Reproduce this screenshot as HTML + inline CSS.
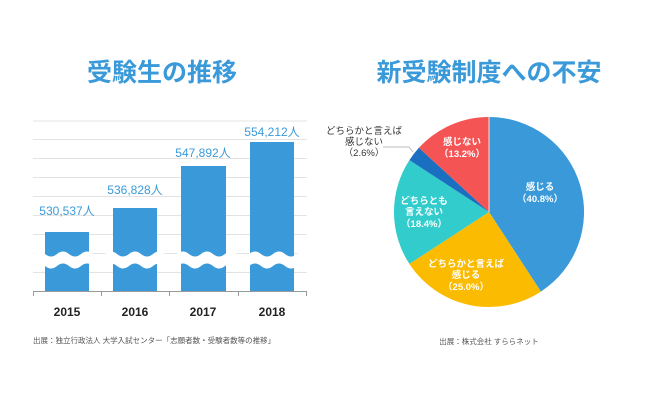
<!DOCTYPE html><html><head><meta charset="utf-8"><style>body{margin:0;background:#fff}svg{display:block}text{font-family:"Liberation Sans","Noto Sans CJK JP",sans-serif}</style></head><body>
<svg width="650" height="406" viewBox="0 0 650 406">
<text x="162" y="81" font-size="25" font-weight="bold" fill="#3a9ad9" text-anchor="middle">受験生の推移</text>
<text x="489" y="81" font-size="25" font-weight="bold" fill="#3a9ad9" text-anchor="middle">新受験制度への不安</text>
<g stroke="#e3e3e3" stroke-width="1">
<line x1="33" x2="307" y1="121" y2="121"/><line x1="33" x2="307" y1="139.5" y2="139.5"/><line x1="33" x2="307" y1="158.5" y2="158.5"/><line x1="33" x2="307" y1="177.5" y2="177.5"/><line x1="33" x2="307" y1="196.5" y2="196.5"/><line x1="33" x2="307" y1="215.5" y2="215.5"/><line x1="33" x2="307" y1="234.5" y2="234.5"/><line x1="33" x2="307" y1="253.5" y2="253.5"/><line x1="33" x2="307" y1="272.5" y2="272.5"/></g>
<g fill="#3a9ad9"><rect x="45" y="232" width="44" height="59"/><rect x="113" y="208" width="44" height="83"/><rect x="181" y="166" width="45" height="125"/><rect x="250" y="142" width="44" height="149"/></g>
<path d="M33 254 q6 -5 12 0 t12 0 t12 0 t12 0 t12 0 t12 0 t12 0 t12 0 t12 0 t12 0 t12 0 t12 0 t12 0 t12 0 t12 0 t12 0 t12 0 t12 0 t12 0 t12 0 t12 0 t12 0 t12 0 L309 266 q-6 -5 -12 0 t-12 0 t-12 0 t-12 0 t-12 0 t-12 0 t-12 0 t-12 0 t-12 0 t-12 0 t-12 0 t-12 0 t-12 0 t-12 0 t-12 0 t-12 0 t-12 0 t-12 0 t-12 0 t-12 0 t-12 0 t-12 0 t-12 0 Z" fill="#fff"/>
<line x1="33" x2="307" y1="291.5" y2="291.5" stroke="#999"/>
<g stroke="#999"><line x1="33.5" x2="33.5" y1="291" y2="296"/><line x1="101.5" x2="101.5" y1="291" y2="296"/><line x1="169.5" x2="169.5" y1="291" y2="296"/><line x1="238.5" x2="238.5" y1="291" y2="296"/><line x1="306.5" x2="306.5" y1="291" y2="296"/></g>
<g font-size="12" fill="#3a9ad9" text-anchor="middle"><text x="67" y="215">530,537人</text><text x="135" y="194">536,828人</text><text x="203" y="157">547,892人</text><text x="272" y="136">554,212人</text></g>
<g font-size="12" font-weight="bold" fill="#222" text-anchor="middle"><text x="67" y="316">2015</text><text x="135" y="316">2016</text><text x="203" y="316">2017</text><text x="272" y="316">2018</text></g>
<text x="33" y="343" font-size="7.5" fill="#555">出展：独立行政法人 大学入試センター「志願者数・受験者数等の推移」</text>
<path d="M489 212 L489 117 A95 95 0 0 1 540.9 291.6Z" fill="#3a9ad9"/>
<path d="M489 212 L540.9 291.6 A95 95 0 0 1 409.4 263.9Z" fill="#fbbb00"/>
<path d="M489 212 L409.4 263.9 A95 95 0 0 1 409.4 160.1Z" fill="#33cccc"/>
<path d="M489 212 L409.4 160.1 A95 95 0 0 1 418.9 147.8Z" fill="#1a6fc0"/>
<path d="M489 212 L418.9 147.8 A95 95 0 0 1 489 117Z" fill="#f55454"/>
<line x1="489" y1="117" x2="489" y2="212" stroke="#fff" stroke-width="0.8"/>
<polyline points="383,147 409,147 413,152" fill="none" stroke="#bbb"/>
<g font-size="9.5" font-weight="bold" fill="#fff" text-anchor="middle">
<text x="540" y="190">感じる</text><text x="540" y="202">（40.8%）</text>
<text x="466" y="267">どちらかと言えば</text><text x="466" y="278">感じる</text><text x="466" y="290">（25.0%）</text>
<text x="424" y="204">どちらとも</text><text x="424" y="215">言えない</text><text x="424" y="227">（18.4%）</text>
<text x="462" y="145">感じない</text><text x="462" y="157">（13.2%）</text></g>
<g font-size="9.5" fill="#333" text-anchor="middle"><text x="364" y="134">どちらかと言えば</text><text x="364" y="145">感じない</text><text x="364" y="156">（2.6%）</text></g>
<text x="489" y="344" font-size="7.5" fill="#555" text-anchor="middle">出展：株式会社 すららネット</text>
</svg></body></html>
